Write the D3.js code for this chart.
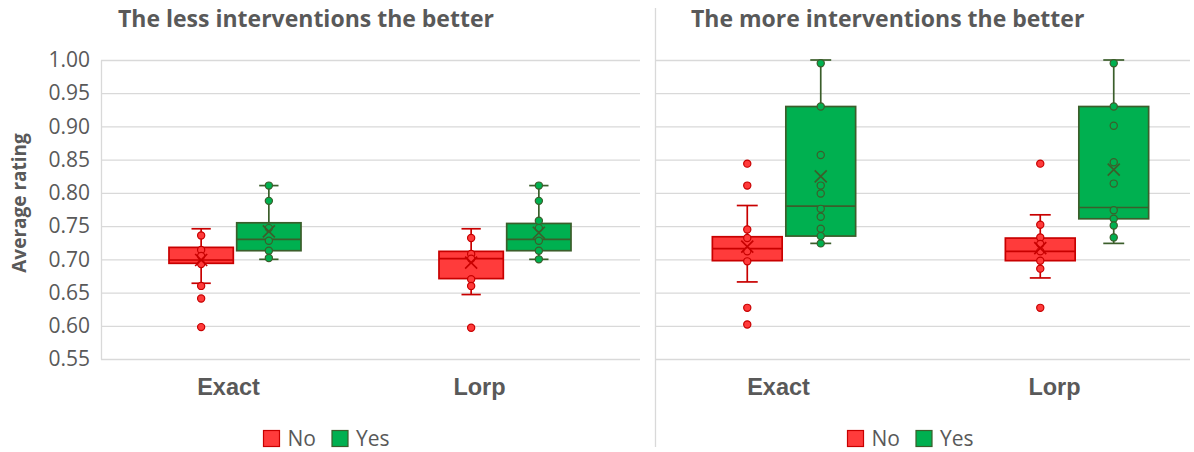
<!DOCTYPE html>
<html><head><meta charset="utf-8">
<script src="https://cdn.jsdelivr.net/npm/d3@7"></script>
<style>body{margin:0;background:#fff}</style>
</head><body>
<svg id="chart" width="1194" height="452"></svg>
<script>
// ---------- DATA ----------
const categories = ["Exact", "Lorp"];
const seriesNames = ["No", "Yes"];
const panelTitles = ["The less interventions the better", "The more interventions the better"];
const yTicks = [0.55, 0.60, 0.65, 0.70, 0.75, 0.80, 0.85, 0.90, 0.95, 1.00];
const yLabel = "Average rating";

// box stats [Exact, Lorp]: low whisker, q1, median, q3, high whisker, mean
const lessNoStats  = [{lo:0.664, q1:0.694, med:0.699, q3:0.718, hi:0.746, mean:0.699},
                      {lo:0.647, q1:0.671, med:0.701, q3:0.712, hi:0.746, mean:0.695}];
const lessYesStats = [{lo:0.700, q1:0.713, med:0.730, q3:0.755, hi:0.811, mean:0.742},
                      {lo:0.700, q1:0.713, med:0.730, q3:0.754, hi:0.811, mean:0.740}];
const moreNoStats  = [{lo:0.666, q1:0.698, med:0.716, q3:0.734, hi:0.781, mean:0.719},
                      {lo:0.672, q1:0.698, med:0.712, q3:0.732, hi:0.767, mean:0.717}];
const moreYesStats = [{lo:0.724, q1:0.735, med:0.780, q3:0.930, hi:1.000, mean:0.825},
                      {lo:0.724, q1:0.761, med:0.778, q3:0.930, hi:1.000, mean:0.835}];

// individual points [Exact, Lorp]
const lessNoPoints  = [[0.736, 0.714, 0.705, 0.693, 0.660, 0.641, 0.598],
                       [0.732, 0.708, 0.701, 0.670, 0.660, 0.597]];
const lessYesPoints = [[0.811, 0.788, 0.747, 0.728, 0.713, 0.702],
                       [0.811, 0.788, 0.758, 0.747, 0.728, 0.713, 0.700]];
const moreNoPoints  = [[0.844, 0.811, 0.745, 0.732, 0.712, 0.697, 0.627, 0.602],
                       [0.844, 0.752, 0.733, 0.723, 0.712, 0.698, 0.686, 0.627]];
const moreYesPoints = [[0.995, 0.930, 0.857, 0.811, 0.799, 0.776, 0.764, 0.746, 0.735, 0.724],
                       [0.995, 0.930, 0.901, 0.846, 0.814, 0.774, 0.761, 0.751, 0.733]];

// ---------- STYLE / LAYOUT ----------
const colors = {
  No:  {fill: "#ff3b3b", stroke: "#c80000"},
  Yes: {fill: "#00b050", stroke: "#3b5e2b"}
};
const textColor = "#595959";
const gridColor = "#d9d9d9";

const panels = [
  {title: panelTitles[0], titleX: 118, plot: [101, 640], groups: [235, 505], labels: [228, 479], legendX: 263,
   stats: {No: lessNoStats, Yes: lessYesStats}, points: {No: lessNoPoints, Yes: lessYesPoints}, axis: true},
  {title: panelTitles[1], titleX: 691, plot: [656, 1190], groups: [784, 1077], labels: [778, 1054], legendX: 847,
   stats: {No: moreNoStats, Yes: moreYesStats}, points: {No: moreNoPoints, Yes: moreYesPoints}, axis: false}
];

const svg = d3.select("#chart");
const y = d3.scaleLinear().domain([0.55, 1.0]).range([359, 60]);

// divider
svg.append("line").attr("x1", 655.5).attr("x2", 655.5).attr("y1", 8).attr("y2", 447)
  .attr("stroke", gridColor).attr("stroke-width", 1.3);

// y axis title
svg.append("text")
  .attr("transform", "translate(26,203) rotate(-90)")
  .attr("text-anchor", "middle")
  .attr("font-family", "Open Sans").attr("font-weight", "bold").attr("font-size", 19)
  .attr("fill", textColor).text(yLabel);

panels.forEach(p => {
  const g = svg.append("g");
  const plotW = p.plot[1] - p.plot[0];

  // gridlines
  const grid = g.append("g").attr("transform", `translate(${p.plot[0]},0)`)
    .call(d3.axisLeft(y).tickValues(yTicks).tickSize(-plotW).tickFormat(""));
  grid.select(".domain").remove();
  grid.selectAll(".tick line").attr("stroke", gridColor).attr("stroke-width", 1.3);

  if (p.axis) {
    const ax = g.append("g").attr("transform", `translate(${p.plot[0]},0)`)
      .call(d3.axisLeft(y).tickValues(yTicks).tickSize(0).tickPadding(11).tickFormat(d3.format(".2f")));
    ax.select(".domain").attr("stroke", gridColor).attr("stroke-width", 1.3);
    ax.selectAll(".tick text").attr("font-family", "Open Sans").attr("font-size", 21).attr("fill", textColor);
  }

  // title
  g.append("text").attr("x", p.titleX).attr("y", 27)
    .attr("font-family", "Open Sans").attr("font-weight", "bold").attr("font-size", 23)
    .attr("fill", textColor).text(p.title);

  // category labels
  const lx = d3.scalePoint().domain(categories).range(p.labels);
  const cat = g.append("g").attr("transform", "translate(0,378)")
    .call(d3.axisBottom(lx).tickSize(0).tickPadding(0));
  cat.select(".domain").remove();
  cat.selectAll(".tick text").attr("font-family", "Liberation Sans").attr("font-weight", "bold")
    .attr("font-size", 23.5).attr("fill", textColor).attr("dy", "0.71em");

  // boxes
  const gx = d3.scalePoint().domain(categories).range(p.groups);
  const step = p.groups[1] - p.groups[0];
  const x1 = d3.scaleBand().domain(seriesNames)
    .range([-step * 0.2445, step * 0.2445]).paddingInner(0.05);
  const bw = x1.bandwidth();

  seriesNames.forEach(s => {
    const c = colors[s];
    categories.forEach((cName, i) => {
      const st = p.stats[s][i];
      const left = gx(cName) + x1(s);
      const cx = left + bw / 2;
      const bg = g.append("g");
      const capW = bw * 0.3;
      // whiskers
      bg.append("line").attr("x1", cx).attr("x2", cx).attr("y1", y(st.hi)).attr("y2", y(st.q3))
        .attr("stroke", c.stroke).attr("stroke-width", 1.7);
      bg.append("line").attr("x1", cx).attr("x2", cx).attr("y1", y(st.q1)).attr("y2", y(st.lo))
        .attr("stroke", c.stroke).attr("stroke-width", 1.7);
      [st.hi, st.lo].forEach(v => bg.append("line")
        .attr("x1", cx - capW / 2).attr("x2", cx + capW / 2).attr("y1", y(v)).attr("y2", y(v))
        .attr("stroke", c.stroke).attr("stroke-width", 1.7));
      // box
      bg.append("rect").attr("x", left).attr("width", bw)
        .attr("y", y(st.q3)).attr("height", y(st.q1) - y(st.q3))
        .attr("fill", c.fill).attr("stroke", c.stroke).attr("stroke-width", 1.7);
      bg.append("line").attr("x1", left).attr("x2", left + bw).attr("y1", y(st.med)).attr("y2", y(st.med))
        .attr("stroke", c.stroke).attr("stroke-width", 1.7);
      // points
      bg.selectAll("circle").data(p.points[s][i]).join("circle")
        .attr("cx", cx).attr("cy", d => y(d)).attr("r", 3.6)
        .attr("fill", c.fill).attr("stroke", c.stroke).attr("stroke-width", 1.2);
      // mean marker
      const my = y(st.mean), m = 6;
      bg.append("path")
        .attr("d", `M${cx - m},${my - m}L${cx + m},${my + m}M${cx - m},${my + m}L${cx + m},${my - m}`)
        .attr("stroke", c.stroke).attr("stroke-width", 1.7).attr("fill", "none");
    });
  });

  // legend
  const lg = g.append("g").attr("transform", `translate(${p.legendX},430)`);
  const offsets = {No: 0, Yes: 68.5};
  seriesNames.forEach(s => {
    const it = lg.append("g").attr("transform", `translate(${offsets[s]},0)`);
    it.append("rect").attr("x", 0.5).attr("y", 0.5).attr("width", 16).attr("height", 16)
      .attr("fill", colors[s].fill).attr("stroke", colors[s].stroke).attr("stroke-width", 1.2);
    it.append("text").attr("x", 24.5).attr("y", 16)
      .attr("font-family", "Open Sans").attr("font-size", 21).attr("fill", textColor).text(s);
  });
});
</script>
</body></html>
